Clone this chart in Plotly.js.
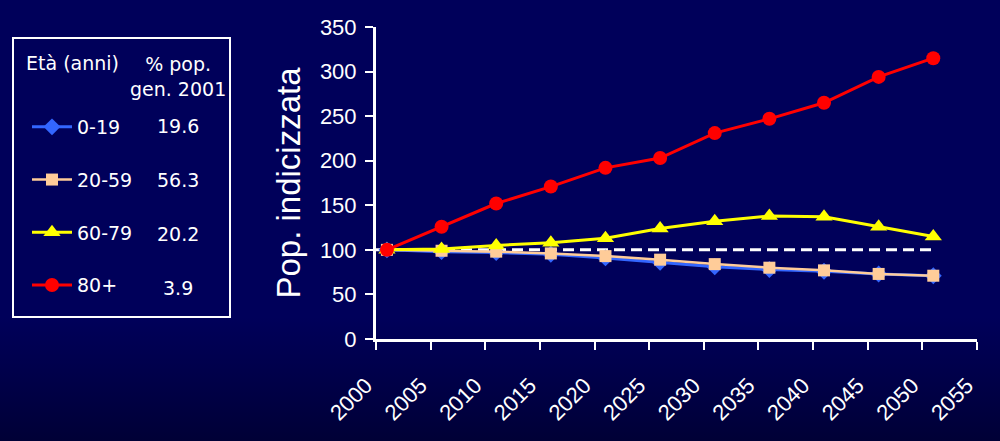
<!DOCTYPE html>
<html>
<head>
<meta charset="utf-8">
<script src="https://cdn.plot.ly/plotly-3.0.1.min.js"></script>
<style>
  html, body { margin: 0; padding: 0; }
  body {
    width: 1000px; height: 441px; overflow: hidden;
    background: linear-gradient(to bottom, #00005a 0%, #00005a 72%, #000046 88%, #000036 100%);
  }
  #chart { width: 1000px; height: 441px; }
</style>
</head>
<body>
<div id="chart"></div>
<script>
// ---- data ----
const years = [2001, 2006, 2011, 2016, 2021, 2026, 2031, 2036, 2041, 2046, 2051];
const age0_19  = [100, 98, 97, 95, 91, 86, 81, 78, 76, 73, 71];
const age20_59 = [100, 99, 98, 96, 93, 89, 84, 80, 77, 73, 71];
const age60_79 = [100, 101, 105, 108, 113, 124, 132, 138, 137, 126, 115];
const age80plus = [100, 126, 152, 171, 192, 203, 231, 247, 265, 294, 315];
const seriesNames = ['0-19', '20-59', '60-79', '80+'];
const pctPop2001 = ['19.6', '56.3', '20.2', '3.9'];
const referenceX = [2000, 2051];
const referenceY = [100, 100];
const xTickVals = [2000, 2005, 2010, 2015, 2020, 2025, 2030, 2035, 2040, 2045, 2050, 2055];
const yTickVals = [0, 50, 100, 150, 200, 250, 300, 350];

// ---- layout geometry helpers ----
const W = 1000, Hh = 441;
const M = { l: 376, r: 23, t: 27, b: 102 };
const PW = W - M.l - M.r, PH = Hh - M.t - M.b;
const px = x => (x - M.l) / PW;
const py = y => (Hh - M.b - y) / PH;

const colors = ['#3366ff', '#ffcc99', '#ffff00', '#ff0000'];
const symbols = ['diamond', 'square', 'triangle-up', 'circle'];
const sizes = [13, 12, 15, 14];
const widths = [3, 2.5, 3, 3];
const values = [age0_19, age20_59, age60_79, age80plus];

const traces = [{
  x: referenceX, y: referenceY, mode: 'lines', showlegend: false, hoverinfo: 'skip',
  line: { color: '#ffffff', width: 3, dash: '11px,6px' }
}];
values.forEach((v, i) => {
  traces.push({
    x: years, y: v, name: seriesNames[i], legendgroup: 'g' + i,
    mode: 'lines+markers',
    line: { color: colors[i], width: widths[i] },
    marker: { color: colors[i], symbol: symbols[i], size: sizes[i] },
    cliponaxis: false
  });
});

const font = 'DejaVu Sans, Verdana, sans-serif';
const axisFont = 'Liberation Sans, Arial, sans-serif';

const rowY = [126, 180, 234, 288];
const annotations = [
  { text: 'Età (anni)', x: px(72), y: py(63) },
  { text: '% pop.<br>gen. 2001', x: px(178), y: py(76) }
].map(a => Object.assign(a, {
  xref: 'paper', yref: 'paper', showarrow: false, xanchor: 'center', yanchor: 'middle',
  font: { family: font, size: 19, color: '#ffffff' }
}));
pctPop2001.forEach((p, i) => {
  annotations.push({
    text: p, xref: 'paper', yref: 'paper', x: px(178), y: py(rowY[i]),
    showarrow: false, xanchor: 'center', yanchor: 'middle',
    font: { family: font, size: 19, color: '#ffffff' }
  });
});

const layout = {
  width: W, height: Hh,
  margin: M,
  paper_bgcolor: 'rgba(0,0,0,0)',
  plot_bgcolor: 'rgba(0,0,0,0)',
  showlegend: true,
  legend: {
    x: px(27), y: py(108), xanchor: 'left', yanchor: 'top',
    bgcolor: 'rgba(0,0,0,0)', borderwidth: 0,
    font: { family: font, size: 19, color: '#ffffff' },
    traceorder: 'grouped', tracegroupgap: 25, itemwidth: 40
  },
  xaxis: {
    range: [2000, 2055], tickmode: 'array', tickvals: xTickVals,
    tickangle: -45, ticks: 'outside', ticklen: 8, tickwidth: 2, tickcolor: '#ffffff',
    showline: true, linecolor: '#ffffff', linewidth: 3,
    showgrid: false, zeroline: false,
    tickfont: { family: axisFont, size: 22, color: '#ffffff' },
    ticklabelstandoff: 14, ticklabelshift: -10
  },
  yaxis: {
    range: [0, 350], tickmode: 'array', tickvals: yTickVals,
    ticks: 'outside', ticklen: 8, tickwidth: 2, tickcolor: '#ffffff',
    showline: true, linecolor: '#ffffff', linewidth: 3,
    showgrid: false, zeroline: false,
    tickfont: { family: axisFont, size: 22, color: '#ffffff' },
    ticklabelstandoff: 4,
    title: { text: 'Pop. indicizzata', standoff: 10,
             font: { family: axisFont, size: 33, color: '#ffffff' } }
  },
  shapes: [{
    type: 'rect', xref: 'paper', yref: 'paper',
    x0: px(13), x1: px(230), y0: py(317), y1: py(38),
    line: { color: '#ffffff', width: 2 }, fillcolor: 'rgba(0,0,0,0)'
  }],
  annotations: annotations
};

Plotly.newPlot('chart', traces, layout, { displayModeBar: false, responsive: false });
</script>
</body>
</html>
